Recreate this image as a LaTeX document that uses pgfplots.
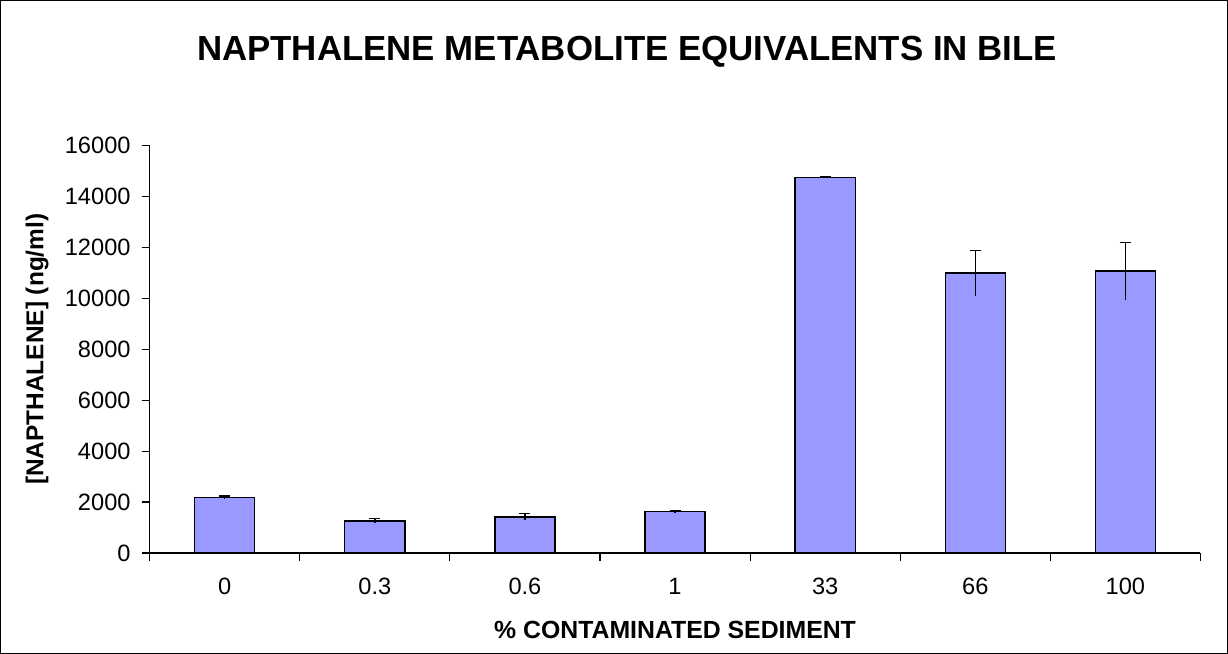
\documentclass[border=0pt]{standalone}
\usepackage{pgfplots}
\pgfplotsset{compat=1.18}
\usepackage{fontspec}
\setmainfont{Liberation Sans}
\definecolor{barblue}{HTML}{9999FF}

\begin{document}
\begin{tikzpicture}
\begin{axis}[
    scale only axis,
    width=525pt, height=203.5pt,
    xmin=-0.5, xmax=6.5,
    ymin=0, ymax=16000,
    axis x line*=bottom,
    axis y line*=left,
    axis line style={line width=0.6pt},
    tick align=outside,
    xtick={0,...,6},
    xticklabels={0,0.3,0.6,1,33,66,100},
    minor xtick={-0.5,0.5,...,6.5},
    major x tick style={draw=none},
    ytick={0,2000,...,16000},
    major tick length=4pt,
    minor tick length=4pt,
    tick style={line width=0.6pt, black},
    scaled y ticks=false,
    /pgf/number format/assume math mode=true,
    /pgf/number format/1000 sep={},
    ticklabel style={font=\fontsize{11.8}{14}\selectfont},
    yticklabel style={xshift=-2pt},
    xticklabel style={yshift=-5pt},
    xlabel={\% CONTAMINATED SEDIMENT},
    ylabel={[NAPTHALENE] (ng/ml)},
    xlabel style={font=\bfseries\fontsize{12.4}{15}\selectfont,
        at={(axis description cs:0.5,-0.189)}, anchor=center},
    ylabel style={font=\bfseries\fontsize{12.2}{15}\selectfont,
        at={(axis description cs:-0.107,0.5)}, anchor=center},
    clip=false,
]
% bars with upper error bar and cap
\addplot[ybar, bar width=30pt, bar shift=0pt, fill=barblue, draw=black, line width=0.7pt,
    error bars/.cd, y dir=plus, y explicit,
    error bar style={line width=0.7pt, black},
    error mark options={rotate=90, mark size=2.75pt, line width=0.7pt, black}]
    table[x=x, y=y, y error=err] {
    x y err
    0 2170 60
    1 1260 95
    2 1420 120
    3 1620 50
    4 14750 20
    5 10990 900
    6 11070 1120
    };
% lower half of the error bars, no cap
\addplot[ybar, bar width=30pt, bar shift=0pt, draw=none, fill=none, forget plot,
    error bars/.cd, y dir=minus, y explicit, error mark=none,
    error bar style={line width=0.7pt, black}]
    table[x=x, y=y, y error=err] {
    x y err
    0 2170 60
    1 1260 95
    2 1420 120
    3 1620 50
    4 14750 20
    5 10990 900
    6 11070 1120
    };
\end{axis}
% chart frame and title
\draw[black, line width=0.5pt] (-74.5pt,-50pt) rectangle (538.5pt,276pt);
\node[font=\bfseries\fontsize{17.4}{20}\selectfont] at (238.5pt,250.5pt) {NAPTHALENE METABOLITE EQUIVALENTS IN BILE};
\end{tikzpicture}
\end{document}
